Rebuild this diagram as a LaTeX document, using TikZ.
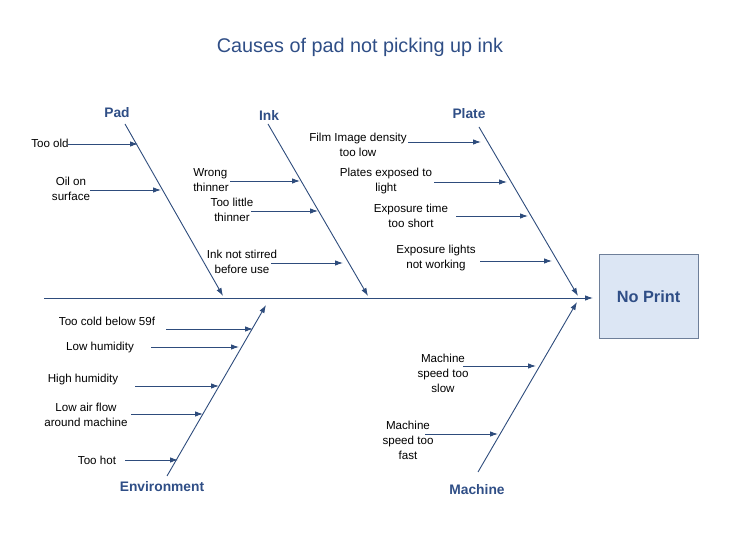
\documentclass[tikz,border=0pt]{standalone}
\usepackage{fontspec}
\setmainfont{Liberation Sans}
\usetikzlibrary{arrows.meta}
\definecolor{linecol}{HTML}{2E4C7C}
\definecolor{labcol}{HTML}{2F4E86}
\definecolor{boxfill}{HTML}{DCE6F4}
\definecolor{boxdraw}{HTML}{6E7F99}
\tikzset{
  bone/.style={draw=linecol, line width=0.9pt, -{Latex[length=8pt,width=5.5pt]}},
  cause/.style={draw=linecol, line width=0.9pt, -{Latex[length=8pt,width=5.5pt]}},
  txt/.style={font=\fontsize{11.6}{15}\selectfont, align=center, inner sep=0pt, text=black},
  cat/.style={font=\fontsize{13.8}{16}\selectfont\bfseries, text=labcol, inner sep=0pt},
}
\begin{document}
\begin{tikzpicture}[x=1pt,y=-1pt]
\useasboundingbox (0,0) rectangle (732,534);
% title
\node[font=\fontsize{19.8}{23}\selectfont, text=labcol] (title) at (360,47) {Causes of pad not picking up ink};
% effect box
\node[draw=boxdraw, fill=boxfill, line width=1pt, minimum width=99pt, minimum height=84pt,
      font=\fontsize{16.3}{19}\selectfont\bfseries, text=labcol] (effect) at (648.5,297) {No Print};
% spine
\coordinate (s0) at (44,298);
\coordinate (s1) at (593,298);
\draw[bone] (s0) -- (s1);

% ---- Pad
\node[cat] (pad) at (117,113) {Pad};
\coordinate (pa) at (125,124); \coordinate (pb) at (223,296);
\draw[bone] (pa) -- (pb);
\node[txt] (p1) at (50,143) {Too old};
\coordinate (p1a) at (68,144); \coordinate (p1b) at (138,144);
\draw[cause] (p1a) -- (p1b);
\node[txt] (p2) at (71,189) {Oil on\\surface};
\coordinate (p2a) at (90,190); \coordinate (p2b) at (161,190);
\draw[cause] (p2a) -- (p2b);

% ---- Ink
\node[cat] (ink) at (269,116) {Ink};
\coordinate (ia) at (268,124); \coordinate (ib) at (368,296);
\draw[bone] (ia) -- (ib);
\node[txt, align=left] (i1) at (211,180) {Wrong\\thinner};
\coordinate (i1a) at (230,181); \coordinate (i1b) at (300,181);
\draw[cause] (i1a) -- (i1b);
\node[txt] (i2) at (232,210) {Too little\\thinner};
\coordinate (i2a) at (251,211); \coordinate (i2b) at (318,211);
\draw[cause] (i2a) -- (i2b);
\node[txt] (i3) at (242,262) {Ink not stirred\\before use};
\coordinate (i3a) at (271,263); \coordinate (i3b) at (343,263);
\draw[cause] (i3a) -- (i3b);

% ---- Plate
\node[cat] (plate) at (469,114) {Plate};
\coordinate (la) at (479,127); \coordinate (lb) at (578,296);
\draw[bone] (la) -- (lb);
\node[txt] (l1) at (358,145) {Film Image density\\too low};
\coordinate (l1a) at (408,142); \coordinate (l1b) at (481,142);
\draw[cause] (l1a) -- (l1b);
\node[txt] (l2) at (386,181) {Plates exposed to\\light};
\coordinate (l2a) at (434,182); \coordinate (l2b) at (507,182);
\draw[cause] (l2a) -- (l2b);
\node[txt] (l3) at (411,216) {Exposure time\\too short};
\coordinate (l3a) at (456,216); \coordinate (l3b) at (528,216);
\draw[cause] (l3a) -- (l3b);
\node[txt] (l4) at (436,258) {Exposure lights\\not working};
\coordinate (l4a) at (480,261); \coordinate (l4b) at (552,261);
\draw[cause] (l4a) -- (l4b);

% ---- Environment
\node[cat] (env) at (162,487) {Environment};
\coordinate (ea) at (167,476); \coordinate (eb) at (266,305);
\draw[bone] (ea) -- (eb);
\node[txt] (e1) at (107,321) {Too cold below 59f};
\coordinate (e1a) at (166,329); \coordinate (e1b) at (253,329);
\draw[cause] (e1a) -- (e1b);
\node[txt] (e2) at (100,348) {Low humidity};
\coordinate (e2a) at (151,347); \coordinate (e2b) at (239,347);
\draw[cause] (e2a) -- (e2b);
\node[txt] (e3) at (83,380) {High humidity};
\coordinate (e3a) at (135,386); \coordinate (e3b) at (219,386);
\draw[cause] (e3a) -- (e3b);
\node[txt] (e4) at (86,415) {Low air flow\\around machine};
\coordinate (e4a) at (131,414); \coordinate (e4b) at (203,414);
\draw[cause] (e4a) -- (e4b);
\node[txt] (e5) at (97,460) {Too hot};
\coordinate (e5a) at (125,460); \coordinate (e5b) at (178,460);
\draw[cause] (e5a) -- (e5b);

% ---- Machine
\node[cat] (mach) at (477,490) {Machine};
\coordinate (ma) at (478,472); \coordinate (mb) at (577,302);
\draw[bone] (ma) -- (mb);
\node[txt] (m1) at (443,373) {Machine\\speed too\\slow};
\coordinate (m1a) at (463,366); \coordinate (m1b) at (536,366);
\draw[cause] (m1a) -- (m1b);
\node[txt] (m2) at (408,440) {Machine\\speed too\\fast};
\coordinate (m2a) at (425,434); \coordinate (m2b) at (498,434);
\draw[cause] (m2a) -- (m2b);
\end{tikzpicture}
\end{document}
